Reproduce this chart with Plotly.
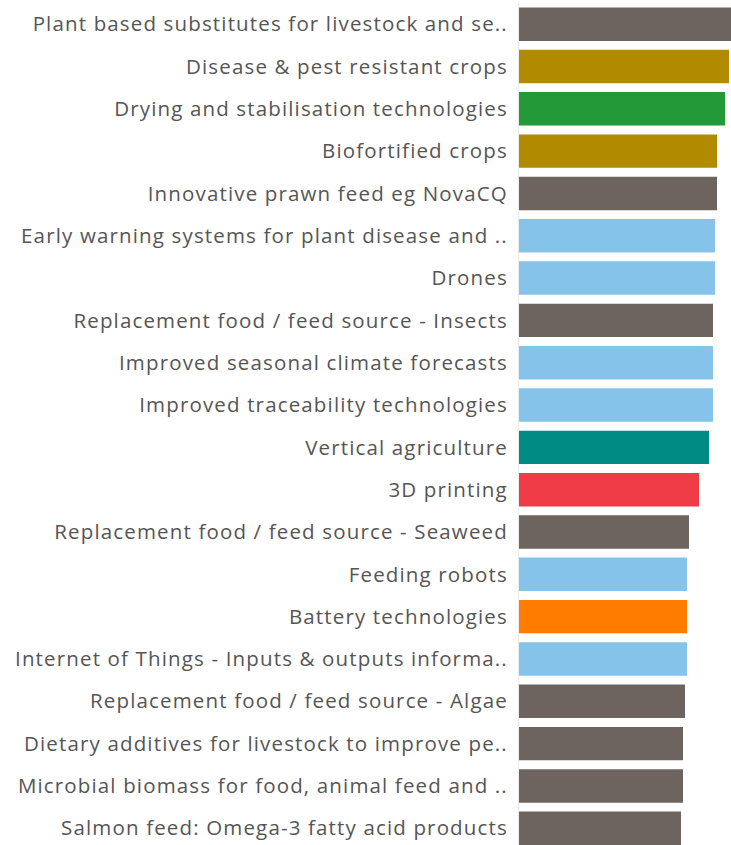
import plotly.graph_objects as go

categories = [
    "Plant based substitutes for livestock and se..",
    "Disease & pest resistant crops",
    "Drying and stabilisation technologies",
    "Biofortified crops",
    "Innovative prawn feed eg NovaCQ",
    "Early warning systems for plant disease and ..",
    "Drones",
    "Replacement food / feed source - Insects",
    "Improved seasonal climate forecasts",
    "Improved traceability technologies",
    "Vertical agriculture",
    "3D printing",
    "Replacement food / feed source - Seaweed",
    "Feeding robots",
    "Battery technologies",
    "Internet of Things - Inputs & outputs informa..",
    "Replacement food / feed source - Algae",
    "Dietary additives for livestock to improve pe..",
    "Microbial biomass for food, animal feed and ..",
    "Salmon feed: Omega-3 fatty acid products",
]
values = [108, 105, 103, 99, 99, 98, 98, 97, 97, 97, 95, 90, 85, 84, 84, 84, 83, 82, 82, 81]
groups = ["grey", "gold", "green", "gold", "grey", "blue", "blue", "grey", "blue", "blue",
          "teal", "red", "grey", "blue", "orange", "blue", "grey", "grey", "grey", "grey"]

palette = {
    "grey": "#6d645f",
    "gold": "#b18a00",
    "green": "#239a37",
    "blue": "#85c3ea",
    "teal": "#008c84",
    "red": "#ef3b46",
    "orange": "#ff7c00",
}
colors = [palette[g] for g in groups]

fig = go.Figure(go.Bar(
    x=values,
    y=categories,
    orientation="h",
    marker=dict(color=colors, line=dict(width=0)),
    hoverinfo="x+y",
))

fig.update_layout(
    width=731,
    height=845,
    margin=dict(l=519, r=0, t=3, b=0, pad=0),
    paper_bgcolor="white",
    plot_bgcolor="white",
    bargap=0.21,
    showlegend=False,
    font=dict(family="Open Sans, sans-serif", size=20.5, color="#555555"),
)
fig.update_xaxes(range=[0, 106], visible=False, showgrid=False, zeroline=False)
fig.update_yaxes(
    type="category",
    categoryorder="array",
    categoryarray=categories,
    range=[19.396, -0.5],
    showgrid=False,
    zeroline=False,
    showline=True,
    linecolor="#ececec",
    linewidth=1,
    ticks="",
    ticklabelstandoff=6,
    tickfont=dict(family="Open Sans, sans-serif", size=20.5, color="#555555"),
)

post = (
    "document.body.style.margin='0';"
    "document.body.style.overflow='hidden';"
    "var s=document.createElement('style');"
    "s.textContent='.ytick text{letter-spacing:1.15px;}';"
    "document.head.appendChild(s);"
)
fig.write_html("out.html", config={"displayModeBar": False}, post_script=post)
